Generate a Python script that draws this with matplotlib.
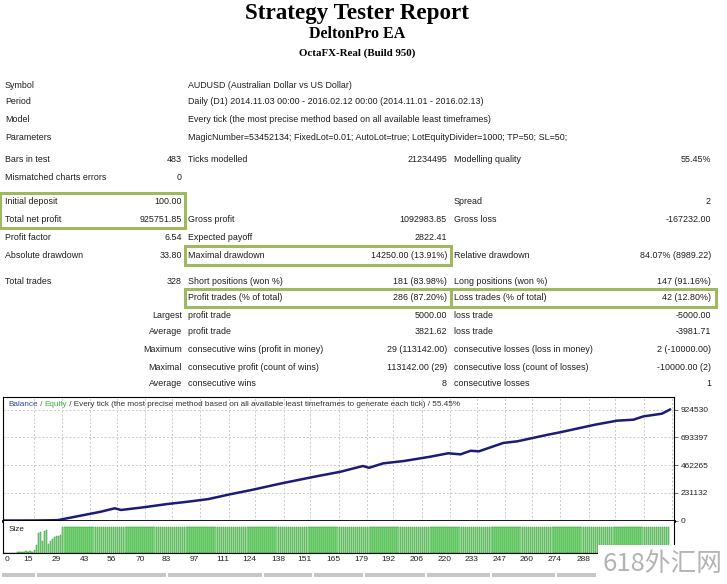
import matplotlib
matplotlib.use("Agg")
import matplotlib.pyplot as plt
import matplotlib.transforms as mtransforms
from matplotlib.patches import Rectangle

# ---------------- data ----------------
title = "Strategy Tester Report"
ea_name = "DeltonPro EA"
server = "OctaFX-Real (Build 950)"

info_labels = ["Symbol", "Period", "Model", "Parameters"]
info_values = [
    "AUDUSD (Australian Dollar vs US Dollar)",
    "Daily (D1) 2014.11.03 00:00 - 2016.02.12 00:00 (2014.11.01 - 2016.02.13)",
    "Every tick (the most precise method based on all available least timeframes)",
    "MagicNumber=53452134; FixedLot=0.01; AutoLot=true; LotEquityDivider=1000; TP=50; SL=50;",
]

col1_labels = ["Bars in test", "Mismatched charts errors", "Initial deposit", "Total net profit",
               "Profit factor", "Absolute drawdown", "Total trades", ""]
col1_values = ["483", "0", "100.00", "925751.85", "6.54", "33.80", "328", ""]
col2_labels = ["Ticks modelled", "", "", "Gross profit", "Expected payoff", "Maximal drawdown",
               "Short positions (won %)", "Profit trades (% of total)"]
col2_values = ["21234495", "", "", "1092983.85", "2822.41", "14250.00 (13.91%)",
               "181 (83.98%)", "286 (87.20%)"]
col3_labels = ["Modelling quality", "", "Spread", "Gross loss", "", "Relative drawdown",
               "Long positions (won %)", "Loss trades (% of total)"]
col3_values = ["55.45%", "", "2", "-167232.00", "", "84.07% (8989.22)",
               "147 (91.16%)", "42 (12.80%)"]

trade_heads = ["Largest", "Average", "Maximum", "Maximal", "Average"]
trade_win_labels = ["profit trade", "profit trade", "consecutive wins (profit in money)",
                    "consecutive profit (count of wins)", "consecutive wins"]
trade_win_values = ["5000.00", "3821.62", "29 (113142.00)", "113142.00 (29)", "8"]
trade_loss_labels = ["loss trade", "loss trade", "consecutive losses (loss in money)",
                     "consecutive loss (count of losses)", "consecutive losses"]
trade_loss_values = ["-5000.00", "-3981.71", "2 (-10000.00)", "-10000.00 (2)", "1"]

# balance curve (trade number, balance)
bal_trade = [0, 5, 10, 15, 20, 25, 27, 38, 48, 55, 58, 69, 81, 91, 101, 112, 122, 137, 153,
             166, 177, 180, 187, 197, 210, 219, 225, 230, 234, 246, 253, 268, 274, 291, 302,
             310, 315, 324, 328]
bal_value = [100, 150, 260, 500, 1200, 2500, 3500, 40000, 73000, 102000, 88000, 110000,
             138000, 157000, 179000, 220000, 254000, 310000, 365000, 407000, 455000, 440000,
             477000, 496000, 532000, 561000, 552000, 582000, 577000, 647000, 661000, 716000,
             736000, 799000, 833000, 841000, 869000, 891000, 925852]

# lot sizes per trade
early_sizes = [0.05, 0.05, 0.05, 0.1, 0.1, 0.1, 0.15, 0.3, 0.4, 0.5, 0.3, 0.6, 0.5, 0.8, 0.4,
               1.2, 3.0, 7.5, 8.0, 4.5, 8.5, 9.0, 3.5, 4.5, 5.5, 6.0, 6.5, 6.5, 7.0]
full_size = 10.0
total_trades = 328

y_ticks = [0, 231132, 462265, 693397, 924530]
x_ticks = [0, 15, 29, 43, 56, 70, 83, 97, 111, 124, 138, 151, 165, 179, 192, 206, 220, 233,
           247, 260, 274, 288]
hidden_x_ticks = [301, 315, 329]

watermark = "618外汇网"

# ---------------- layout ----------------
W, H = 727, 584
fig = plt.figure(figsize=(W / 100, H / 100), dpi=100)
fig.patch.set_facecolor("white")


def fx(x):
    return x / W


def fy(y):
    return 1 - y / H


FONT = "Liberation Sans"
FS = 6.4
TXT = "#1e1e1e"

fig.text(fx(357), fy(19), title, ha="center", va="baseline", family="Liberation Serif",
         weight="bold", fontsize=16.6, color="black")
fig.text(fx(357), fy(37.5), ea_name, ha="center", va="baseline", family="Liberation Serif",
         weight="bold", fontsize=11.5, color="black")
fig.text(fx(357), fy(55.5), server, ha="center", va="baseline", family="Liberation Serif",
         weight="bold", fontsize=7.8, color="black")


def t(x, y, s, ha="left", color=TXT, fs=FS):
    if s:
        fig.text(fx(x), fy(y), s, ha=ha, va="center", family=FONT, fontsize=fs, color=color)


info_y = [85, 102, 119, 137]
for yy, lab, val in zip(info_y, info_labels, info_values):
    t(5, yy, lab)
    t(188, yy, val)

stat_y = [160, 177, 202, 219, 238, 255, 281, 298]
for i, yy in enumerate(stat_y):
    t(5, yy, col1_labels[i])
    t(182, yy, col1_values[i], ha="right")
    t(188, yy, col2_labels[i])
    t(447, yy, col2_values[i], ha="right")
    t(454, yy, col3_labels[i])
    t(711, yy, col3_values[i], ha="right")

trade_y = [315, 332, 350, 367, 384]
for i, yy in enumerate(trade_y):
    t(182, yy, trade_heads[i], ha="right")
    t(188, yy, trade_win_labels[i])
    t(447, yy, trade_win_values[i], ha="right")
    t(454, yy, trade_loss_labels[i])
    t(711, yy, trade_loss_values[i], ha="right")

BOX = "#9fba5e"
for (x0, y0, x1, y1) in [(0, 193, 185, 228), (185, 246, 451, 265), (185, 289, 451, 307),
                         (451, 289, 716, 307)]:
    fig.add_artist(Rectangle((fx(x0), fy(y1)), (x1 - x0) / W, (y1 - y0) / H,
                             transform=fig.transFigure, fill=False, edgecolor=BOX, lw=2.2))

# ---------------- main chart ----------------
ax = fig.add_axes([fx(3), fy(521), (674 - 3) / W, (521 - 397) / H])
ax.set_xlim(0, 330)
ax.set_ylim(-4000, 1030500)
ax.set_xticks(x_ticks + hidden_x_ticks)
ax.set_yticks(y_ticks)
ax.set_yticklabels([str(v) for v in y_ticks])
ax.yaxis.tick_right()
ax.tick_params(axis="x", bottom=False, labelbottom=False)
ax.tick_params(axis="y", right=True, length=3, width=0.6, pad=2, labelsize=6,
               labelcolor="#222222", color="#555555")
for lab in ax.get_yticklabels():
    lab.set_family(FONT)
ax.grid(True, color="#c9c9c9", ls=(0, (2, 2)), lw=0.7)
ax.set_axisbelow(True)
for s in ax.spines.values():
    s.set_color("black")
    s.set_linewidth(0.8)
ax.spines["bottom"].set_linewidth(2.0)
ax.plot(bal_trade, bal_value, color="#1b1b78", lw=1.8, solid_joinstyle="round")

# legend line at top
renderer = fig.canvas.get_renderer()
parts = [("Balance", "#2a4a9a"), (" / ", "#555555"), ("Equity", "#3cb43c"),
         (" / Every tick (the most precise method based on all available least timeframes to generate each tick) / 55.45%", "#333333")]
xpos = fx(8)
for s, c in parts:
    tx = fig.text(xpos, fy(405), s, ha="left", va="center", family=FONT, fontsize=5.9,
                  color=c)
    bb = tx.get_window_extent(renderer=renderer)
    xpos += bb.width / W

# ---------------- size panel ----------------
ax2 = fig.add_axes([fx(3), fy(553), (674 - 3) / W, (553 - 521) / H])
sizes = early_sizes + [full_size] * (total_trades - len(early_sizes))
ax2.bar(range(len(sizes)), sizes, width=0.75, color="#8fe38f", edgecolor="#2e9a2e",
        linewidth=0.35, align="edge")
ax2.set_xlim(0, 330)
ax2.set_ylim(0, 12.3)
ax2.set_yticks([])
ax2.set_xticks(x_ticks)
ax2.set_xticklabels([str(v) for v in x_ticks])
ax2.tick_params(axis="x", length=0, pad=2.5, labelsize=6, labelcolor="#222222")
for i, lab in enumerate(ax2.get_xticklabels()):
    lab.set_family(FONT)
    if i == 0:
        lab.set_ha("left")
        lab.set_transform(lab.get_transform() + mtransforms.ScaledTranslation(2 / 100, 0, fig.dpi_scale_trans))
    else:
        lab.set_transform(lab.get_transform() + mtransforms.ScaledTranslation(-5.5 / 100, 0, fig.dpi_scale_trans))
for s in ax2.spines.values():
    s.set_color("black")
    s.set_linewidth(0.8)
ax2.spines["top"].set_visible(False)
ax2.text(0.008, 0.72, "Size", transform=ax2.transAxes, family=FONT, fontsize=5.9,
         color="#222222", ha="left", va="center")

# bottom gray bar segments
for (x0, x1) in [(2, 35), (37, 166), (168, 262), (264, 312), (314, 363), (365, 425),
                 (427, 490), (492, 555), (557, 596)]:
    fig.add_artist(Rectangle((fx(x0), fy(577)), (x1 - x0) / W, 4 / H,
                             transform=fig.transFigure, facecolor="#c6c6c6", edgecolor="none"))

# watermark
fig.add_artist(Rectangle((fx(598), fy(584)), (727 - 598) / W, (584 - 545) / H,
                         transform=fig.transFigure, facecolor="white", edgecolor="none",
                         zorder=10))
fig.text(fx(602), fy(564), watermark, ha="left", va="center",
         family=["Noto Sans CJK SC", "DejaVu Sans"], fontsize=18.5, color="#b4b4b4", zorder=11)

fig.savefig("out.png", dpi=100, facecolor="white")
